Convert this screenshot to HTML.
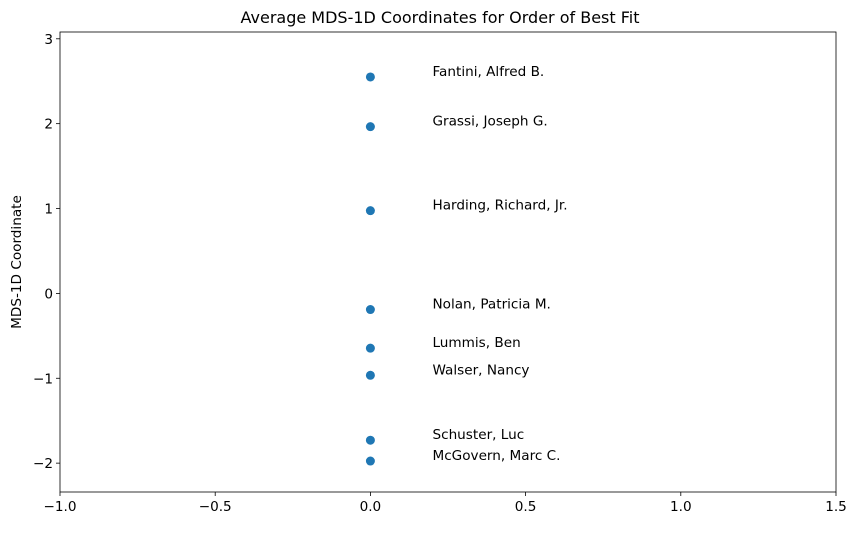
<!DOCTYPE html>
<html><head><meta charset="utf-8">
<style>
body{margin:0;background:#fff;font-family:"Liberation Sans",sans-serif;}
svg text{font-family:"DejaVu Sans","Liberation Sans",sans-serif;}
</style></head>
<body>
<svg id="chart" width="855" height="528">
<rect x="0" y="0" width="855" height="528" fill="#fff"/>
</svg>
<script>
const names = ["Fantini, Alfred B.","Grassi, Joseph G.","Harding, Richard, Jr.","Nolan, Patricia M.","Lummis, Ben","Walser, Nancy","Schuster, Luc","McGovern, Marc C."];
const xValues = [0,0,0,0,0,0,0,0];
const yValues = [2.55,1.965,0.975,-0.19,-0.645,-0.965,-1.73,-1.975];
const xTicks = [-1.0,-0.5,0.0,0.5,1.0,1.5];
const xTickLabels = ["\u22121.0","\u22120.5","0.0","0.5","1.0","1.5"];
const yTicks = [-2,-1,0,1,2,3];
const yTickLabels = ["\u22122","\u22121","0","1","2","3"];

const L=60,R=836,T=32,B=492;
const xMin=-1,xMax=1.5,yMin=-2.34,yMax=3.08;
const sx=v=>L+(v-xMin)/(xMax-xMin)*(R-L);
const sy=v=>B-(v-yMin)/(yMax-yMin)*(B-T);
const svg=document.getElementById('chart');
const NS='http://www.w3.org/2000/svg';
function mk(tag,attrs,parent){const e=document.createElementNS(NS,tag);for(const k in attrs)e.setAttribute(k,attrs[k]);(parent||svg).appendChild(e);return e;}

const title=mk('text',{x:(L+R)/2-8,y:23,'text-anchor':'middle','font-size':16,fill:'#000'});


title.textContent='Average MDS-1D Coordinates for Order of Best Fit';

const yl=mk('text',{x:0,y:0,transform:'translate(21,262) rotate(-90)','text-anchor':'middle','font-size':13.6,fill:'#000'});


yl.textContent='MDS-1D Coordinate';

xTicks.forEach((t,i)=>{
  const g=mk('g',{});
  
  
  mk('line',{x1:sx(t),x2:sx(t),y1:B,y2:B+4,stroke:'#000','stroke-width':0.8},g);
  const tx=mk('text',{x:sx(t),y:B+19,'text-anchor':'middle','font-size':13.6,fill:'#000'},g);
  tx.textContent=xTickLabels[i];
});
yTicks.forEach((t,i)=>{
  const g=mk('g',{});
  
  
  mk('line',{x1:L-4,x2:L,y1:sy(t),y2:sy(t),stroke:'#000','stroke-width':0.8},g);
  const tx=mk('text',{x:L-7,y:sy(t)+5,'text-anchor':'end','font-size':13.6,fill:'#000'},g);
  tx.textContent=yTickLabels[i];
});

names.forEach((n,i)=>{
  const c=mk('circle',{cx:sx(xValues[i]),cy:sy(yValues[i]),r:4.5,fill:'#1f77b4'});
  
  
  const t=mk('text',{x:sx(xValues[i]+0.2),y:sy(yValues[i])-1,'font-size':13.6,fill:'#000'});
  
  
  t.textContent=n;
});

const frame=mk('rect',{x:L,y:T,width:R-L,height:B-T,fill:'none',stroke:'#000','stroke-width':0.8});


</script>
</body></html>
